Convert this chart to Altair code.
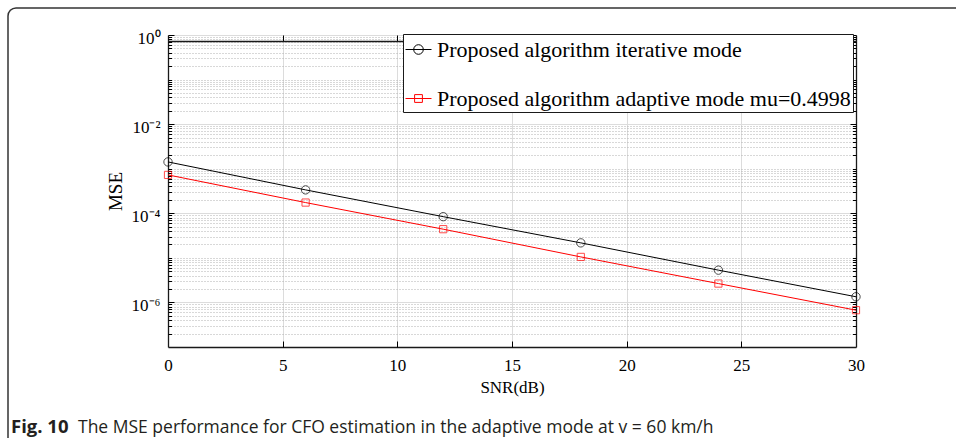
import altair as alt
import pandas as pd

# ---------------- data ----------------
snr = [0, 6, 12, 18, 24, 30]
mse_iterative = [1.42e-3, 3.35e-4, 8.4e-5, 2.17e-5, 5.3e-6, 1.34e-6]
mse_adaptive = [7.26e-4, 1.74e-4, 4.4e-5, 1.05e-5, 2.65e-6, 6.7e-7]
series_names = ["Proposed algorithm iterative mode",
                "Proposed algorithm adaptive mode mu=0.4998"]
series_colors = ["#000000", "#ff0000"]

x_ticks = [0, 5, 10, 15, 20, 25, 30]
x_inner_ticks = [5, 10, 15, 20, 25]
y_major = [1e0, 1e-2, 1e-4, 1e-6]
y_major_labels = ["10⁰", "10⁻²", "10⁻⁴", "10⁻⁶"]
y_minor = [m * 10.0 ** e for e in range(-7, 0) for m in range(2, 10)] + [1e-1, 1e-3, 1e-5]

caption_bold = "Fig. 10"
caption_rest = "The MSE performance for CFO estimation in the adaptive mode at v = 60 km/h"

df = pd.DataFrame({
    "snr": snr + snr,
    "mse": mse_iterative + mse_adaptive,
    "series": [series_names[0]] * len(snr) + [series_names[1]] * len(snr),
})

SERIF = "Liberation Serif"

label_expr = " : ".join(
    f"abs(datum.value - {v}) < {v * 0.01} ? '{l}'" for v, l in zip(y_major, y_major_labels)
) + " : ''"

xscale = alt.Scale(domain=[0, 30], nice=False, zero=False)
yscale = alt.Scale(type="log", domain=[1e-7, 1], nice=False)

axis_x_main = alt.Axis(orient="bottom", values=x_ticks, grid=True, gridColor="#dcdcdc",
                       ticks=False, tickSize=0, domain=True, domainColor="#1a1a1a",
                       domainWidth=1.3,
                       labelFont=SERIF, labelFontSize=17, labelColor="black", labelPadding=10,
                       labelAngle=0, labelFlush=False, labelOverlap=False, format="d",
                       title="SNR(dB)", titleFont=SERIF, titleFontSize=17,
                       titleFontWeight="normal", titleColor="black", titlePadding=6)
axis_x_top_ticks = alt.Axis(orient="top", values=x_inner_ticks, grid=False, labels=False,
                            domain=True, domainColor="#1a1a1a", domainWidth=1.3,
                            ticks=True, tickSize=6,
                            tickColor="black", offset=-6, title=None)
axis_x_bottom_ticks = alt.Axis(orient="bottom", values=x_inner_ticks, grid=False, labels=False,
                               domain=False, ticks=True, tickSize=6, tickColor="black",
                               offset=-6, title=None)

axis_y_main = alt.Axis(orient="left", values=y_major, labelExpr=label_expr, grid=True,
                       gridColor="#dcdcdc", ticks=False, tickSize=0, domain=True,
                       domainColor="#1a1a1a", domainWidth=1.3,
                       labelFont=SERIF, labelFontSize=17,
                       labelColor="black", labelPadding=8, labelOffset=3,
                       labelFlush=False, labelOverlap=False,
                       title="MSE", titleFont=SERIF, titleFontSize=19,
                       titleFontWeight="normal", titleColor="black", titlePadding=6)
axis_y_minor_grid = alt.Axis(orient="right", values=y_minor, grid=True, gridColor="#b0b0b0",
                             gridDash=[1, 2], ticks=False, tickSize=0, labels=False,
                             domain=True, domainColor="#1a1a1a", domainWidth=1.3, title=None)
axis_y_left_major_ticks = alt.Axis(orient="left", values=y_major, grid=False, labels=False,
                                   domain=False, ticks=True, tickSize=6, tickColor="black",
                                   offset=-6, title=None)
axis_y_left_minor_ticks = alt.Axis(orient="left", values=y_minor, grid=False, labels=False,
                                   domain=False, ticks=True, tickSize=3.5, tickColor="black",
                                   offset=-3.5, title=None)
axis_y_right_major_ticks = alt.Axis(orient="right", values=y_major, grid=False, labels=False,
                                    domain=False, ticks=True, tickSize=6, tickColor="black",
                                    offset=-6, title=None)
axis_y_right_minor_ticks = alt.Axis(orient="right", values=y_minor, grid=False, labels=False,
                                    domain=False, ticks=True, tickSize=3.5, tickColor="black",
                                    offset=-3.5, title=None)

base = alt.Chart(df)
iter_data = base.transform_filter(alt.datum.series == series_names[0])
adapt_data = base.transform_filter(alt.datum.series == series_names[1])

line_iter = iter_data.mark_line(strokeWidth=1, color=series_colors[0]).encode(
    x=alt.X("snr:Q", scale=xscale, axis=axis_x_main),
    y=alt.Y("mse:Q", scale=yscale, axis=axis_y_main),
)
line_adapt = adapt_data.mark_line(strokeWidth=1, color=series_colors[1]).encode(
    x=alt.X("snr:Q", scale=xscale, axis=None),
    y=alt.Y("mse:Q", scale=yscale, axis=None),
)

circles = iter_data.mark_point(
    shape="circle", filled=False, size=70, strokeWidth=1, color=series_colors[0]
).encode(
    x=alt.X("snr:Q", scale=xscale, axis=axis_x_top_ticks),
    y=alt.Y("mse:Q", scale=yscale, axis=axis_y_minor_grid),
)

squares = adapt_data.mark_point(
    shape="square", filled=False, size=52, strokeWidth=1, color=series_colors[1]
).encode(
    x=alt.X("snr:Q", scale=xscale, axis=axis_x_bottom_ticks),
    y=alt.Y("mse:Q", scale=yscale, axis=axis_y_left_major_ticks),
)

sym_circle = "M-1,0L1,0M0.37,0A0.37,0.37,0,1,1,-0.37,0A0.37,0.37,0,1,1,0.37,0Z"
sym_square = "M-1,0L1,0M-0.3,-0.3L0.3,-0.3L0.3,0.3L-0.3,0.3Z"

legend = alt.Legend(title=None, orient="none", legendX=235, legendY=-1,
                    symbolSize=676, symbolStrokeWidth=1, symbolOpacity=1,
                    labelFont=SERIF, labelFontSize=22, labelColor="black", labelLimit=1000,
                    labelOffset=5, rowPadding=24, padding=2,
                    fillColor="white", strokeColor="#1a1a1a")

legend_layer = base.mark_point(filled=False, size=100, opacity=0, strokeWidth=1).encode(
    x=alt.X("snr:Q", scale=xscale, axis=None),
    y=alt.Y("mse:Q", scale=yscale, axis=axis_y_left_minor_ticks),
    color=alt.Color("series:N", scale=alt.Scale(domain=series_names, range=series_colors),
                    legend=legend),
    shape=alt.Shape("series:N", scale=alt.Scale(domain=series_names,
                                                range=[sym_circle, sym_square]),
                    legend=legend),
)

carrier1 = base.mark_point(size=0, opacity=0).encode(
    x=alt.X("snr:Q", scale=xscale, axis=None),
    y=alt.Y("mse:Q", scale=yscale, axis=axis_y_right_major_ticks),
)
carrier2 = base.mark_point(size=0, opacity=0).encode(
    x=alt.X("snr:Q", scale=xscale, axis=None),
    y=alt.Y("mse:Q", scale=yscale, axis=axis_y_right_minor_ticks),
)

one = pd.DataFrame({"t1": [caption_bold], "t2": [caption_rest]})
frame = alt.Chart(one).mark_rect(fill="transparent", stroke="#333333", strokeWidth=1.5,
                                 cornerRadius=8).encode(
    x=alt.value(-160), x2=alt.value(820), y=alt.value(-27), y2=alt.value(430)
)
cap1 = alt.Chart(one).mark_text(font="Open Sans", fontSize=18.5, fontWeight="bold",
                                align="left", baseline="alphabetic", color="#231f20").encode(
    x=alt.value(-157), y=alt.value(398), text="t1:N"
)
cap2 = alt.Chart(one).mark_text(font="Open Sans", fontSize=17.5, align="left",
                                baseline="alphabetic", color="#231f20").encode(
    x=alt.value(-90), y=alt.value(398), text="t2:N"
)

chart = alt.layer(
    frame, line_iter, line_adapt, circles, squares, legend_layer, carrier1, carrier2,
    cap1, cap2
).resolve_axis(x="independent", y="independent").properties(
    width=688, height=312,
    autosize=alt.AutoSizeParams(type="none"),
    padding={"left": 168, "top": 35, "right": 100, "bottom": 91},
    background="white",
).configure_view(stroke=None)

chart.save("out.html", embed_options={"renderer": "svg", "actions": False})
